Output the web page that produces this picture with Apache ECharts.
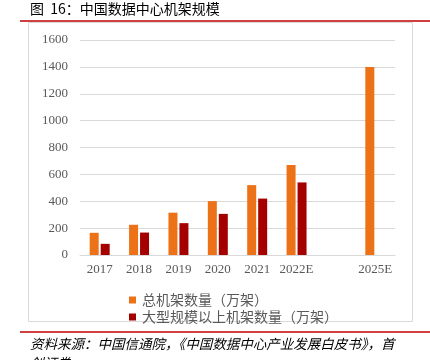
<!DOCTYPE html>
<html><head><meta charset="utf-8">
<script src="https://cdn.jsdelivr.net/npm/echarts@6/dist/echarts.min.js"></script>
<style>html,body{margin:0;padding:0;background:#fff}#c{width:430px;height:360px}</style>
</head><body><div id="c"></div>
<script>
var categories = ['2017','2018','2019','2020','2021','2022E','','2025E'];
var totalRacks = [165, 225, 315, 401, 520, 670, null, 1400];
var largeRacks = [83, 167, 237, 306, 420, 540, null, null];
var yTicks = [0, 200, 400, 600, 800, 1000, 1200, 1400, 1600];

var chart = echarts.init(document.getElementById('c'));
var serif = '"Liberation Serif", "Times New Roman", serif';
var cjk = '"Noto Sans CJK SC", sans-serif';
chart.setOption({
  animation: false,
  graphic: [
    {type:'text', left:30, top:2, style:{text:'图  16：中国数据中心机架规模', font:'14px ' + cjk, fill:'#000'}},
    {type:'line', shape:{x1:20, y1:21, x2:430, y2:21}, style:{stroke:'#c00000', lineWidth:1.5}},
    {type:'rect', shape:{x:28.5, y:22.5, width:384, height:299}, style:{fill:'none', stroke:'#d9d9d9', lineWidth:1}},
    {type:'line', shape:{x1:20, y1:332, x2:430, y2:332}, style:{stroke:'#c00000', lineWidth:1.5}},
    {type:'text', left:30, top:334, style:{text:'资料来源：中国信通院，《中国数据中心产业发展白皮书》，首\n创证券', font:'italic 13.5px ' + cjk, fill:'#000', lineHeight:19}}
  ],
  grid: {left:80, right:35, top:40, bottom:105},
  legend: {
    orient:'vertical', left:124, top:288, itemWidth:7, itemHeight:7, itemGap:3,
    icon:'rect',
    textStyle:{fontFamily:cjk, fontSize:14, color:'#595959', padding:[0,0,0,1]},
    data:['总机架数量（万架）','大型规模以上机架数量（万架）']
  },
  xAxis: {
    type:'category', data:categories,
    axisLine:{show:true, lineStyle:{color:'#d9d9d9'}},
    axisTick:{show:false},
    axisLabel:{fontFamily:serif, fontSize:13, color:'#595959', margin:8, interval:0}
  },
  yAxis: {
    type:'value', min:0, max:1600, interval:200,
    axisLine:{show:false}, axisTick:{show:false},
    splitLine:{lineStyle:{color:'#d9d9d9'}},
    axisLabel:{fontFamily:serif, fontSize:13, color:'#595959', margin:12,
      formatter:function(v){return yTicks.indexOf(v)>=0 ? String(v) : '';}}
  },
  series: [
    {name:'总机架数量（万架）', type:'bar', data:totalRacks, barWidth:9, barGap:'22%', itemStyle:{color:'#ED7117'}},
    {name:'大型规模以上机架数量（万架）', type:'bar', data:largeRacks, barWidth:9, itemStyle:{color:'#A50000'}}
  ]
});
</script></body></html>
